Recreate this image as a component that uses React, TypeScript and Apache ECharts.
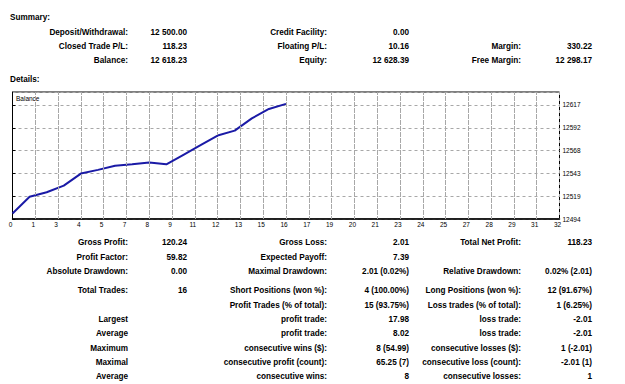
import React, { useEffect, useRef } from "react";
import * as echarts from "echarts";

// ---- chart data ----
const BASE = 12494; // lowest y tick value
const tradeIndex = [0, 1, 2, 3, 4, 5, 6, 7, 8, 9, 10, 11, 12, 13, 14, 15, 16];
const balance = [
  12500.0, 12518.0, 12522.8, 12530.0, 12543.0, 12547.0, 12551.5, 12553.0, 12555.0,
  12553.0, 12563.3, 12573.6, 12584.0, 12589.3, 12602.6, 12612.7, 12618.23,
];
const yTickStep = 24.6;
const yRange = 137;
const xMax = 32; // last trade-number label
const xTickCount = 24; // number of x grid intervals
const X_UNIT = xTickCount / xMax; // trades -> grid units

// ---- report text ----
const summaryRows = [
  ["Deposit/Withdrawal:", "12 500.00", "Credit Facility:", "0.00", "", ""],
  ["Closed Trade P/L:", "118.23", "Floating P/L:", "10.16", "Margin:", "330.22"],
  ["Balance:", "12 618.23", "Equity:", "12 628.39", "Free Margin:", "12 298.17"],
];
const summaryY = [32.4, 46.3, 60.3];

const detailRows = [
  ["Gross Profit:", "120.24", "Gross Loss:", "2.01", "Total Net Profit:", "118.23"],
  ["Profit Factor:", "59.82", "Expected Payoff:", "7.39", "", ""],
  ["Absolute Drawdown:", "0.00", "Maximal Drawdown:", "2.01 (0.02%)", "Relative Drawdown:", "0.02% (2.01)"],
  ["Total Trades:", "16", "Short Positions (won %):", "4 (100.00%)", "Long Positions (won %):", "12 (91.67%)"],
  ["", "", "Profit Trades (% of total):", "15 (93.75%)", "Loss trades (% of total):", "1 (6.25%)"],
  ["Largest", "", "profit trade:", "17.98", "loss trade:", "-2.01"],
  ["Average", "", "profit trade:", "8.02", "loss trade:", "-2.01"],
  ["Maximum", "", "consecutive wins ($):", "8 (54.99)", "consecutive losses ($):", "1 (-2.01)"],
  ["Maximal", "", "consecutive profit (count):", "65.25 (7)", "consecutive loss (count):", "-2.01 (1)"],
  ["Average", "", "consecutive wins:", "8", "consecutive losses:", "1"],
];
const detailY = [242.8, 257.2, 271.3, 290.7, 305.4, 319.5, 333.7, 348.0, 362.0, 376.3];

const colRight = [128, 187, 327, 409, 521, 592];

const FONT = "'Liberation Sans', Arial, sans-serif";
const GRID_LINE = { color: "#a8a8a8", type: [3, 3], width: 1 };

function textEl(text: string, x: number, y: number, align: string, size: number, weight: string) {
  return {
    type: "text",
    x,
    y,
    silent: true,
    style: {
      text,
      fill: "#000",
      font: `${weight} ${size}px ${FONT}`,
      align,
      verticalAlign: "middle",
      textAlign: align,
      textVerticalAlign: "middle",
    },
  };
}

export default function App() {
  const ref = useRef<HTMLDivElement>(null);

  useEffect(() => {
    if (!ref.current) return;
    const chart = echarts.init(ref.current, null, { renderer: "svg" });

    const graphics: any[] = [];
    graphics.push(textEl("Summary:", 10, 17.7, "left", 8.2, "bold"));
    graphics.push(textEl("Details:", 10, 79, "left", 8.2, "bold"));
    graphics.push(textEl("Balance", 16, 98.5, "left", 6.5, "normal"));
    const addRows = (rows: string[][], ys: number[]) => {
      rows.forEach((row, r) => {
        row.forEach((cell, c) => {
          if (cell) graphics.push(textEl(cell, colRight[c], ys[r], "right", 8.2, "bold"));
        });
      });
    };
    addRows(summaryRows, summaryY);
    addRows(detailRows, detailY);

    const xGridTicks: number[] = [];
    for (let k = 1; k < xTickCount; k++) xGridTicks.push(k);

    chart.setOption({
      animation: false,
      backgroundColor: "#fff",
      textStyle: { fontFamily: FONT },
      grid: {
        left: 12.5,
        top: 92,
        right: 65.5,
        bottom: 165,
        show: true,
        borderColor: "#000",
        borderWidth: 1,
        backgroundColor: "transparent",
      },
      xAxis: {
        type: "value",
        min: 0,
        max: xTickCount,
        interval: 1,
        axisLine: { show: true, onZero: false, lineStyle: { color: "#000", width: 1.5 } },
        axisTick: { show: false },
        axisLabel: {
          color: "#000",
          fontSize: 6.5,
          fontFamily: FONT,
          margin: 2,
          padding: [0, 4, 0, 0],
          formatter: (v: number) => String(Math.round(v / X_UNIT)),
        },
        splitLine: { show: true, lineStyle: GRID_LINE },
      },
      yAxis: {
        type: "value",
        position: "right",
        min: 0,
        max: yRange,
        interval: yTickStep,
        axisLine: { show: true, lineStyle: { color: "#000", width: 1 } },
        axisTick: { show: true, length: 3, lineStyle: { color: "#000" } },
        axisLabel: {
          color: "#000",
          fontSize: 6.5,
          fontFamily: FONT,
          margin: 3,
          showMaxLabel: false,
          formatter: (v: number) => String(Math.round(v + BASE)),
        },
        splitLine: { show: true, lineStyle: GRID_LINE },
      },
      series: [
        {
          type: "line",
          data: [],
          silent: true,
          z: 1,
          markLine: {
            silent: true,
            animation: false,
            symbol: ["none", "none"],
            label: { show: false },
            emphasis: { disabled: true },
            lineStyle: GRID_LINE,
            data: xGridTicks.map((k) => ({ xAxis: k })),
          },
        },
        {
          type: "line",
          z: 3,
          data: tradeIndex.map((x, i) => [x * X_UNIT, balance[i] - BASE]),
          symbol: "none",
          lineStyle: { color: "#1a1aa6", width: 2 },
          silent: true,
        },
      ],
      graphic: { elements: graphics },
    });

    return () => chart.dispose();
  }, []);

  return (
    <div
      ref={ref}
      style={{ position: "fixed", left: 0, top: 0, width: 625, height: 384, background: "#fff" }}
    />
  );
}
